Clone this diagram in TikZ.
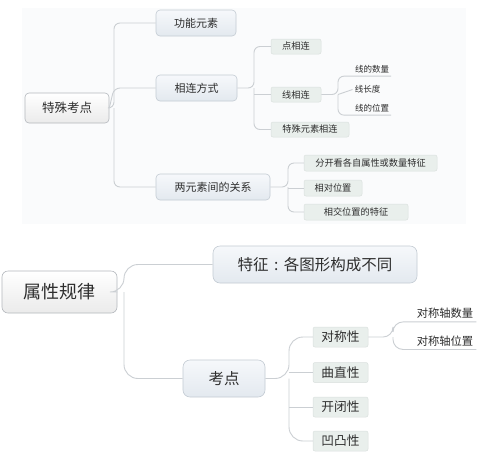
\documentclass[tikz,border=0pt]{standalone}
\usepackage{fontspec}
\newfontfamily\cjk{Noto Sans CJK SC}
\newcommand\fsz[1]{\cjk\fontsize{#1}{#1}\selectfont}
\definecolor{txt}{HTML}{2E2E2E}
\definecolor{bordA}{HTML}{B4B8BD}
\definecolor{bordB}{HTML}{C3CBD3}
\definecolor{bordC}{HTML}{DAE0DE}
\definecolor{lineC}{HTML}{CBCFD3}
\definecolor{panel}{HTML}{FAFBFC}
\definecolor{midtop}{HTML}{F6F8FB}
\definecolor{midbot}{HTML}{E3E9EF}
\definecolor{subfill}{HTML}{E9EFEC}
\begin{document}
\begin{tikzpicture}[x=1pt,y=-1pt,
  rootbox/.style={draw=bordA, line width=0.6pt, top color=white, bottom color=black!8, rounded corners=4pt, inner sep=0pt, text=txt},
  midbox/.style={draw=bordB, line width=0.6pt, top color=midtop, bottom color=midbot, rounded corners=4pt, inner sep=0pt, text=txt},
  subbox/.style={draw=bordC, line width=0.5pt, fill=subfill, rounded corners=2pt, inner sep=0pt, text=txt},
  leaf/.style={inner xsep=2pt, inner ysep=2.5pt, text=txt},
  conn/.style={draw=lineC, line width=0.9pt, rounded corners=6pt},
  bconn/.style={draw=lineC, line width=0.9pt, rounded corners=14pt}]
\useasboundingbox (0,0) rectangle (478,451);
\fill[white] (0,0) rectangle (478,451);
\fill[panel] (22,8) rectangle (466,224);

% ---------- top mind map ----------
\node[rootbox, minimum width=84pt, minimum height=30pt, font=\fsz{12.5pt}] (tk) at (67,108) {特殊考点};
\node[midbox, minimum width=80pt, minimum height=26pt, font=\fsz{11pt}] (gn) at (196,23) {功能元素};
\node[midbox, minimum width=81pt, minimum height=26pt, font=\fsz{11pt}] (xl) at (196.5,88) {相连方式};
\node[midbox, minimum width=114pt, minimum height=26pt, font=\fsz{11pt}] (ly) at (213,187) {两元素间的关系};

\node[subbox, minimum width=50pt, minimum height=15pt, font=\fsz{9.2pt}] (dx) at (296,46.5) {点相连};
\node[subbox, minimum width=50pt, minimum height=15pt, font=\fsz{9.2pt}] (xx) at (296,94.5) {线相连};
\node[subbox, minimum width=78pt, minimum height=15pt, font=\fsz{9.2pt}] (ts) at (310,129.5) {特殊元素相连};

\node[leaf, font=\fsz{8.5pt}] (l1) at (372,69.5) {线的数量};
\node[leaf, font=\fsz{8.5pt}] (l2) at (367.5,89.5) {线长度};
\node[leaf, font=\fsz{8.5pt}] (l3) at (372,108.5) {线的位置};

\node[subbox, minimum width=133pt, minimum height=16pt, font=\fsz{9.2pt}] (f1) at (370.5,163) {分开看各自属性或数量特征};
\node[subbox, minimum width=58pt, minimum height=16pt, font=\fsz{9.2pt}] (f2) at (333,188) {相对位置};
\node[subbox, minimum width=104pt, minimum height=16pt, font=\fsz{9.2pt}] (f3) at (356,212) {相交位置的特征};

\coordinate (s1) at (114,108);
\draw[conn] (tk.east) -- (s1) |- (gn.west);
\draw[conn] (s1) |- (ly.west);
\draw[conn] (tk.east) -- (xl.west -| s1) -- (xl.west);

\coordinate (s2) at (254,88);
\draw[conn] (xl.east) -- (s2) |- (dx.west);
\draw[conn] (s2) |- (ts.west);
\draw[conn] (s2 |- xx.west) -- (xx.west);

\coordinate (s3) at (338,94.5);
\draw[conn] (xx.east) -- (s3) |- (l1.south west) -- (l1.south east);
\draw[conn] (s3) |- (l3.south west) -- (l3.south east);
\draw[conn] (s3) -- (l2.west);

\coordinate (s4) at (288,187);
\draw[conn] (ly.east) -- (s4) |- (f1.west);
\draw[conn] (s4) |- (f3.west);
\draw[conn] (s4 |- f2.west) -- (f2.west);

% ---------- bottom mind map ----------
\node[rootbox, rounded corners=6pt, minimum width=115pt, minimum height=42pt, font=\fsz{18pt}] (sx) at (59.5,292) {属性规律};
\node[midbox, rounded corners=7pt, minimum width=204pt, minimum height=37pt, font=\fsz{15.5pt}] (tz) at (315,264.5) {特征\hspace{0.36em}:\hspace{0.36em}各图形构成不同};
\node[midbox, rounded corners=7pt, minimum width=82pt, minimum height=37pt, font=\fsz{15.5pt}] (kd) at (224,378.5) {考点};

\node[subbox, minimum width=55pt, minimum height=20pt, font=\fsz{12.7pt}] (d1) at (340.5,337) {对称性};
\node[subbox, minimum width=55pt, minimum height=20pt, font=\fsz{12.7pt}] (d2) at (340.5,372.5) {曲直性};
\node[subbox, minimum width=55pt, minimum height=20pt, font=\fsz{12.7pt}] (d3) at (340.5,407) {开闭性};
\node[subbox, minimum width=55pt, minimum height=20pt, font=\fsz{12.7pt}] (d4) at (340.5,441) {凹凸性};

\node[leaf, inner xsep=3pt, inner ysep=3pt, font=\fsz{11.3pt}] (e1) at (445,313.5) {对称轴数量};
\node[leaf, inner xsep=3pt, inner ysep=3pt, font=\fsz{11.3pt}] (e2) at (445,341) {对称轴位置};

\coordinate (s5) at (124,292);
\draw[bconn] (sx.east) -- (s5) |- (tz.west);
\draw[bconn] (s5) |- (kd.west);

\coordinate (s6) at (289,378.5);
\draw[bconn] (kd.east) -- (s6) |- (d1.west);
\draw[bconn] (s6) |- (d4.west);
\draw[conn] (s6 |- d2.west) -- (d2.west);
\draw[conn] (s6 |- d3.west) -- (d3.west);

\coordinate (s7) at (393,337);
\draw[bconn, rounded corners=10pt] (d1.east) -- (s7) |- (e1.south west) -- (e1.south east);
\draw[bconn, rounded corners=10pt] (s7) |- (e2.south west) -- (e2.south east);
\end{tikzpicture}
\end{document}
